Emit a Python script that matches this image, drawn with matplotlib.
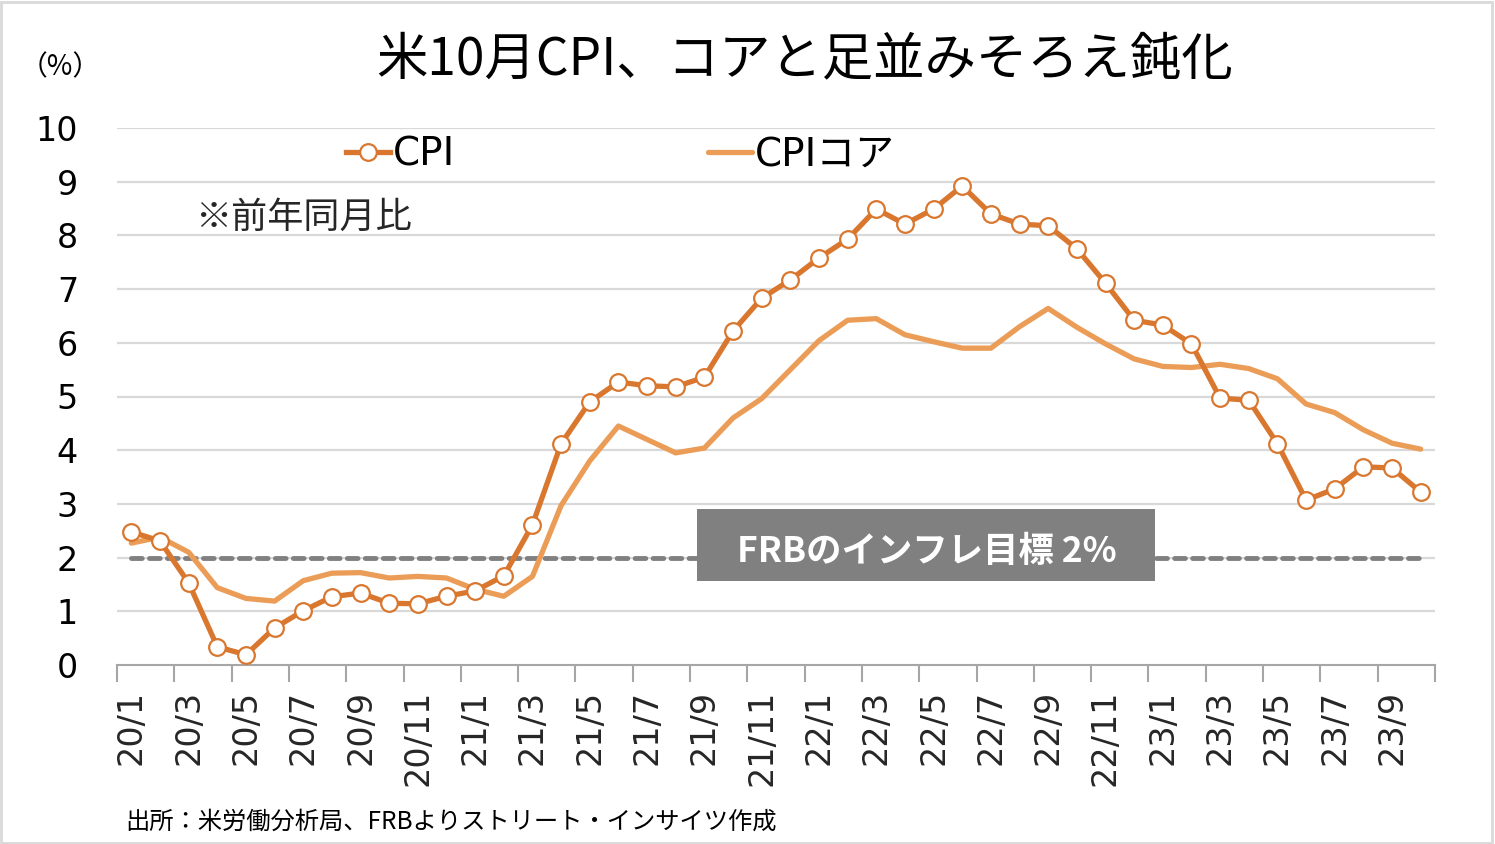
import numpy as np
import matplotlib
matplotlib.use("Agg")
import matplotlib.pyplot as plt
from matplotlib.patches import Rectangle

plt.rcParams['font.family'] = ['DejaVu Sans', 'Noto Sans CJK JP']
JP = ['Noto Sans CJK JP', 'DejaVu Sans']

# months 20/1 .. 23/10
months = [f"{y}/{m}" for y in (20, 21, 22, 23) for m in range(1, 13)][:46]

cpi = [2.48, 2.31, 1.53, 0.34, 0.19, 0.69, 1.01, 1.27, 1.34, 1.15, 1.14, 1.28,
       1.38, 1.66, 2.61, 4.12, 4.90, 5.27, 5.20, 5.18, 5.36, 6.22, 6.83, 7.17,
       7.58, 7.93, 8.49, 8.21, 8.49, 8.92, 8.40, 8.21, 8.18, 7.75, 7.11, 6.42,
       6.33, 5.98, 4.97, 4.93, 4.12, 3.07, 3.28, 3.69, 3.67, 3.22]
core = [2.27, 2.38, 2.10, 1.44, 1.24, 1.19, 1.57, 1.71, 1.72, 1.62, 1.65, 1.62,
        1.41, 1.28, 1.65, 2.97, 3.80, 4.45, 4.20, 3.95, 4.04, 4.60, 4.96, 5.50,
        6.04, 6.42, 6.45, 6.15, 6.02, 5.90, 5.90, 6.30, 6.64, 6.29, 5.98, 5.70,
        5.56, 5.54, 5.60, 5.52, 5.33, 4.86, 4.70, 4.38, 4.13, 4.02]
target = 2

x = np.arange(len(months))

fig = plt.figure(figsize=(14.95, 8.44), dpi=100)
ax = fig.add_axes([117/1495, 1-665/844, (1435-117)/1495, (665-128)/844])

# grid
for v in range(1, 11):
    ax.axhline(v, color='#D9D9D9', lw=1.6, zorder=0)

ax.plot([x[0], x[-1]], [target, target], color='#808080', lw=3.5,
        ls=(0, (2.2, 1.5)), dash_capstyle='round', zorder=1)

l_core, = ax.plot(x, core, color='#EB9D57', lw=3.8, zorder=2,
                  solid_capstyle='round')
l_cpi, = ax.plot(x, cpi, color='#D9772F', lw=3.8, marker='o', markersize=12,
                 markerfacecolor='white', markeredgecolor='#D9772F',
                 markeredgewidth=1.6, zorder=3)

ax.set_xlim(-0.5, len(months) - 0.5)
ax.set_ylim(0, 10)
ax.set_yticks(range(0, 11))
ax.set_yticklabels([str(v) for v in range(0, 11)], fontsize=24)
ax.tick_params(axis='y', length=0, pad=28)

ax.set_xticks(np.arange(-0.5, len(months), 2))
ax.set_xticklabels([])
ax.set_xticks(x[::2], minor=True)
ax.set_xticklabels(months[::2], minor=True, rotation=90, fontsize=24,
                   color='#262626')
ax.tick_params(axis='x', which='major', length=12, width=1.5, color='#A6A6A6',
               direction='out')
ax.tick_params(axis='x', which='minor', length=0, pad=18)

for s in ('left', 'right', 'top'):
    ax.spines[s].set_visible(False)
ax.spines['bottom'].set_color('#A6A6A6')
ax.spines['bottom'].set_linewidth(1.5)

# legend (two separate entries)
for handle, label, xpos in ((l_cpi, 'CPI', 346), (l_core, 'CPIコア', 708)):
    fig.legend([handle], [label], frameon=False, fontsize=28,
               loc='center left', bbox_to_anchor=(xpos/1495, 1-155/844),
               borderpad=0, borderaxespad=0, handlelength=1.13,
               handletextpad=0.08)

# target box
px = 28.65  # pixels per month
ax.add_patch(Rectangle(((697-131)/px, 1.56), (1155-697)/px, 1.34,
                       facecolor='#808080', edgecolor='none', zorder=4))
ax.text(((697+1155)/2 - 131)/px, 2.0 + 0.12, 'FRBのインフレ目標 2%', color='white',
        fontsize=25.5, fontweight='bold', ha='center', va='center', zorder=5,
        family=JP)

fig.text(805/1495, 1-60/844, '米10月CPI、コアと足並みそろえ鈍化', fontsize=37,
         ha='center', va='center', family=JP)
fig.text(60/1495, 1-67/844, '（%）', fontsize=20, ha='center', va='center',
         family=JP)
fig.text(195/1495, 1-218/844, '※前年同月比', fontsize=26, ha='left', va='center',
         color='#262626', family=JP)
fig.text(125/1495, 1-822/844, '出所：米労働分析局、FRBよりストリート・インサイツ作成',
         fontsize=17.5, ha='left', va='center', family=JP)

fig.patches.append(Rectangle((0.001, 0.001), 0.997, 0.997, transform=fig.transFigure,
                             fill=False, edgecolor='#D9D9D9', lw=2))

fig.savefig('out.png', dpi=100)
